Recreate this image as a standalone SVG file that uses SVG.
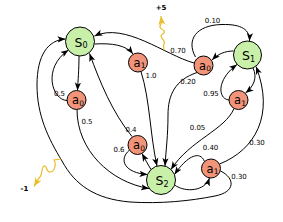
<svg xmlns="http://www.w3.org/2000/svg" width="283" height="222" viewBox="0 0 283 222">
<style>
.state{fill:#c8f0a8;stroke:#000;stroke-width:1}
.act{fill:#f29479;stroke:#000;stroke-width:1}
.e{fill:none;stroke:#000;stroke-width:1;marker-end:url(#ah)}
.y{fill:none;stroke:#e8be2a;stroke-width:1.2;marker-end:url(#yh)}
.lb{font-family:"DejaVu Sans",sans-serif;font-size:7px;fill:#000;text-anchor:middle}
.sl{font-family:"DejaVu Sans",sans-serif;font-size:12.5px;fill:#000;text-anchor:middle}
.al{font-family:"DejaVu Sans",sans-serif;font-size:11.5px;fill:#000;text-anchor:middle}
</style>
<defs>
<marker id="ah" markerWidth="8" markerHeight="8" refX="8" refY="4" orient="auto" markerUnits="userSpaceOnUse" viewBox="0 0 8 8"><path d="M0,0.9 L8,4 L0,7.1 L2,4 z" fill="#000"/></marker>
<marker id="yh" markerWidth="9" markerHeight="9" refX="9" refY="4.5" orient="auto" markerUnits="userSpaceOnUse" viewBox="0 0 9 9"><path d="M0,1 L9,4.5 L0,8 L2.5,4.5 z" fill="#e8be2a"/></marker>
</defs>
<g id="connectors">
<path class="e" d="M94.5,44 C112,43 126,45 133,54"/>
<path class="e" d="M79,56 C79,70 78,80 77.5,90.5"/>
<path class="e" d="M67,100.5 C52,100 42,68 68.5,50"/>
<path class="e" d="M77,109.5 C77,150 110,182 149,188.5"/>
<path class="e" d="M141,71.5 C150,100 150,135 157,166"/>
<path class="e" d="M194,63 C165,55 125,22 94.5,36"/>
<path class="e" d="M195.5,57 C186,40 196,25 222,24.5 C242,24 250,30 249.5,41"/>
<path class="e" d="M197,72.5 C175,80 168,95 168,115 C168,135 166,150 165,166"/>
<path class="e" d="M233.5,51 C225,51 218,54 212,60"/>
<path class="e" d="M253,68 C258,78 253,87 245.5,93"/>
<path class="e" d="M229,100 C218,99 216,80 237,64.5"/>
<path class="e" d="M234,108.5 C225,130 190,140 171,169.5"/>
<path class="e" d="M151,169.5 C147,163 145,159 142,153.5"/>
<path class="e" d="M129.5,150 C118,160 125,173 147.5,174.5"/>
<path class="e" d="M132,136.5 C112,112 100,82 89.5,53.5"/>
<path class="e" d="M174.5,185 C186,193 205,191 209.5,178"/>
<path class="e" d="M204.5,161.5 C200,150 187,156 174.5,174.5"/>
<path class="e" d="M219.5,164 C255,150 275,115 256,66.5"/>
<path class="e" d="M220.5,171 C235,178 236,192 215,196 C190,201 160,204 130,202 C95,199 75,185 62,161 C48,138 37,115 37,85 C37,55 48,40 65.5,39"/>
<path class="y" d="M164,50 L163.5,45 C167,42 161,38 161,36 C161,34 166,33 164,31 C162,29 159,28 160,26 C161,24 162,23 161.5,21 L161,16"/>
<path class="y" d="M61,159 L54,160 C57,165 54,172 50,172 C46,172 47,165 44,166 C41,167 43,175 39,178 L34,186.5"/>
<text class="lb" x="59.5" y="96">0.5</text>
<text class="lb" x="87" y="123.5">0.5</text>
<text class="lb" x="151" y="77.5">1.0</text>
<text class="lb" x="178" y="53">0.70</text>
<text class="lb" x="212.5" y="22.5">0.10</text>
<text class="lb" x="188" y="83.5">0.20</text>
<text class="lb" x="211" y="96">0.95</text>
<text class="lb" x="131" y="131.5">0.4</text>
<text class="lb" x="119" y="152">0.6</text>
<text class="lb" x="197.5" y="129.5">0.05</text>
<text class="lb" x="210.5" y="149.5">0.40</text>
<text class="lb" x="257" y="145">0.30</text>
<text class="lb" x="239" y="179">0.30</text>
<text class="lb" x="161" y="10" font-weight="bold">+5</text>
<text class="lb" x="24.5" y="191" font-weight="bold">-1</text>
</g>
<g id="S0"><circle class="state" cx="80" cy="41.5" r="14.5"/><text class="sl" x="81" y="46.5">S<tspan font-size="8" dy="1.5">0</tspan></text></g>
<g id="S1"><circle class="state" cx="247.5" cy="55" r="14"/><text class="sl" x="248.5" y="60">S<tspan font-size="8" dy="1.5">1</tspan></text></g>
<g id="S2"><circle class="state" cx="161" cy="180" r="14.5"/><text class="sl" x="162" y="185">S<tspan font-size="8" dy="1.5">2</tspan></text></g>
<g id="S0_a1"><circle class="act" cx="138" cy="62.5" r="9.5"/><text class="al" x="139.5" y="66.5">a<tspan font-size="7.5" dy="1.5">1</tspan></text></g>
<g id="S0_a0"><circle class="act" cx="76.5" cy="100" r="9.5"/><text class="al" x="78" y="104">a<tspan font-size="7.5" dy="1.5">0</tspan></text></g>
<g id="S1_a0"><circle class="act" cx="203.5" cy="65.5" r="9.5"/><text class="al" x="205" y="69.5">a<tspan font-size="7.5" dy="1.5">0</tspan></text></g>
<g id="S1_a1"><circle class="act" cx="238.5" cy="100" r="9.5"/><text class="al" x="240" y="104">a<tspan font-size="7.5" dy="1.5">1</tspan></text></g>
<g id="S2_a0"><circle class="act" cx="137.5" cy="145" r="9.5"/><text class="al" x="139" y="149">a<tspan font-size="7.5" dy="1.5">0</tspan></text></g>
<g id="S2_a1"><circle class="act" cx="211" cy="168.5" r="9.5"/><text class="al" x="212.5" y="172.5">a<tspan font-size="7.5" dy="1.5">1</tspan></text></g>
</svg>
